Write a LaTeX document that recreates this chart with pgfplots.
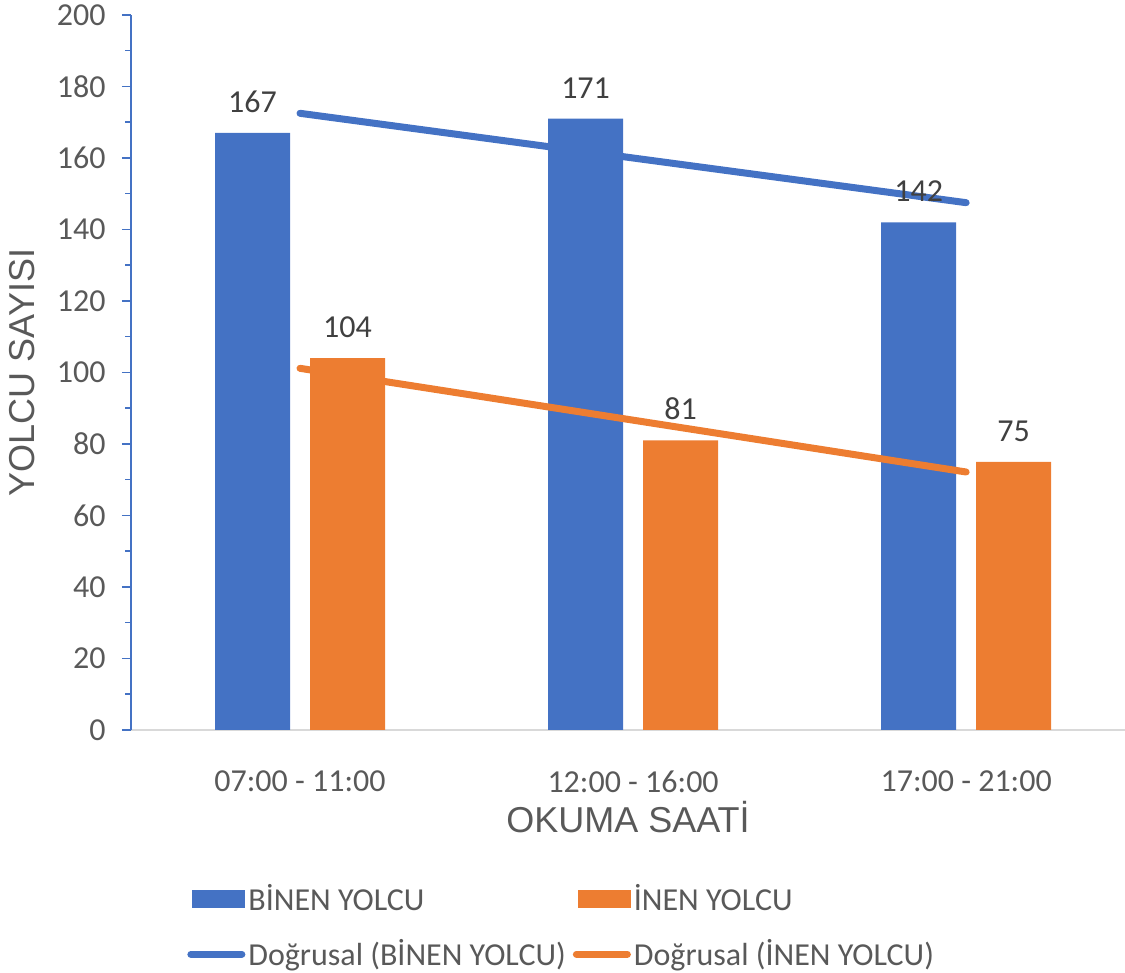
\documentclass[border=0pt]{standalone}
\usepackage{fontspec}
\usepackage{pgfplots}
\pgfplotsset{compat=1.18}
\setmainfont{Carlito}
\newfontfamily\calibri{Carlito}
\newfontfamily\arial{Liberation Sans}
\definecolor{cblue}{HTML}{4472C4}
\definecolor{corange}{HTML}{ED7D31}
\definecolor{tgray}{HTML}{595959}
\definecolor{tdark}{HTML}{404040}
\definecolor{lgray}{HTML}{D9D9D9}
\begin{document}
\begin{tikzpicture}
\path[use as bounding box] (0,0) rectangle (562.5pt,486.5pt);
\begin{axis}[
  at={(65.5pt,121.5pt)}, anchor=south west,
  scale only axis, width=497pt, height=357.5pt,
  clip=false,
  ybar, bar width=37.5pt,
  xmin=-0.5075, xmax=2.477,
  ymin=0, ymax=200,
  axis x line*=bottom, axis y line*=left,
  axis line style={-},
  x axis line style={draw=lgray, line width=0.75pt},
  y axis line style={draw=cblue, line width=0.75pt},
  xtick={0,1,2},
  xticklabels={07:00 - 11:00, 12:00 - 16:00, 17:00 - 21:00},
  x tick style={draw=none},
  ytick={0,20,...,200},
  minor y tick num=1,
  y tick style={draw=cblue, line width=0.75pt},
  tick align=outside,
  major tick length=4.5pt, minor tick length=2.75pt,
  /pgf/number format/assume math mode=true,
  ticklabel style={font=\calibri\fontsize{16}{19}\selectfont, text=tgray},
  xticklabel style={anchor=north, inner sep=0pt, yshift=-15.5pt},
  yticklabel style={anchor=east, inner sep=0pt, xshift=-8pt},
  xlabel={OKUMA SAATİ},
  ylabel={YOLCU SAYISI},
  label style={font=\arial\fontsize{18}{21}\selectfont, text=tgray},
  xlabel style={at={(axis description cs:0.5,0)}, anchor=base, yshift=-51.5pt},
  ylabel style={at={(axis description cs:0,0.5)}, anchor=base, yshift=48.5pt},
  legend columns=2,
  legend style={draw=none, fill=none, inner sep=0pt,
    at={(0.0563,-0.21)}, anchor=north west,
    font=\calibri\fontsize{16}{19}\selectfont, text=tgray,
    row sep=9pt, nodes={inner xsep=1.5pt},
    /tikz/every even column/.append style={column sep=2pt}},
  legend cell align=left,
]
\addplot[fill=cblue, draw=none, bar shift=-23.75pt,
  nodes near coords={\calibri\pgfmathprintnumber[assume math mode=true]{\pgfplotspointmeta}},
  nodes near coords style={font=\calibri\fontsize{16}{19}\selectfont, text=tdark, anchor=south, inner sep=0pt, yshift=10pt},
  legend image code/.code={\fill[cblue] (2.5pt,-4.5pt) rectangle (29pt,4.5pt);}]
  coordinates {(0,167) (1,171) (2,142)};
\addlegendentry{BİNEN YOLCU}
\addplot[fill=corange, draw=none, bar shift=23.75pt,
  nodes near coords={\calibri\pgfmathprintnumber[assume math mode=true]{\pgfplotspointmeta}},
  nodes near coords style={font=\calibri\fontsize{16}{19}\selectfont, text=tdark, anchor=south, inner sep=0pt, yshift=10pt},
  legend image code/.code={\fill[corange] (2.5pt,-4.5pt) rectangle (29pt,4.5pt);}]
  coordinates {(0,104) (1,81) (2,75)};
\addlegendentry{İNEN YOLCU}
\addplot[sharp plot, draw=cblue, line width=3.5pt, line cap=round, mark=none,
  legend image code/.code={\draw[cblue, line width=3.5pt, line cap=round] (1.75pt,0pt) -- (27.25pt,0pt);}]
  coordinates {(0,172.5) (2,147.5)};
\addlegendentry{Doğrusal (BİNEN YOLCU)}
\addplot[sharp plot, draw=corange, line width=3.5pt, line cap=round, mark=none,
  legend image code/.code={\draw[corange, line width=3.5pt, line cap=round] (1.75pt,0pt) -- (27.25pt,0pt);}]
  coordinates {(0,101.1667) (2,72.1667)};
\addlegendentry{Doğrusal (İNEN YOLCU)}
\end{axis}
\end{tikzpicture}
\end{document}
